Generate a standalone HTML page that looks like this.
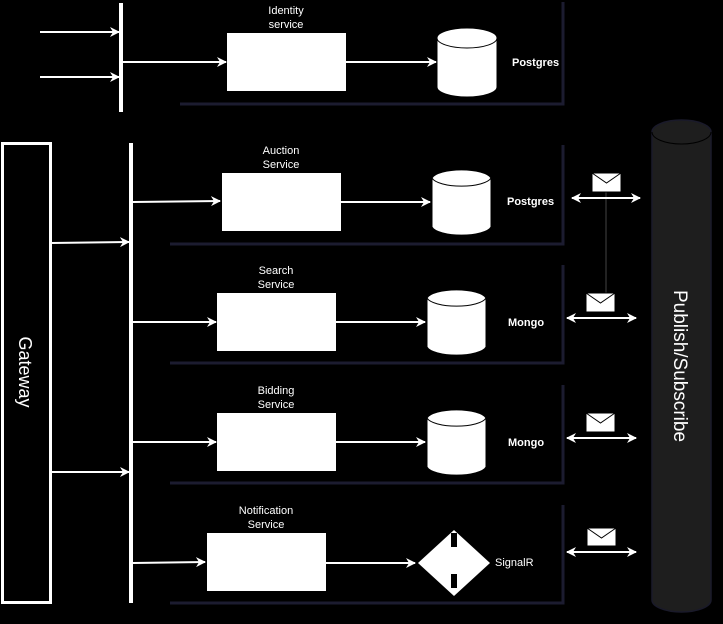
<!DOCTYPE html>
<html><head><style>
html,body{margin:0;padding:0;background:#000;}
svg{display:block}
text{font-family:"Liberation Sans",Arial,sans-serif;fill:#fff;}
</style></head><body>
<svg width="723" height="624" viewBox="0 0 723 624" xmlns="http://www.w3.org/2000/svg">
<defs>
<marker id="a" markerWidth="10" markerHeight="10" refX="9" refY="5" orient="auto" markerUnits="userSpaceOnUse">
<path d="M0,0 L10,5 L0,10 L3,5 Z" fill="#fff"/></marker>
<marker id="b" markerWidth="10" markerHeight="10" refX="1" refY="5" orient="auto" markerUnits="userSpaceOnUse">
<path d="M10,0 L0,5 L10,10 L7,5 Z" fill="#fff"/></marker>
</defs>
<rect width="723" height="624" fill="#000"/>
<!-- containers -->
<g stroke="#1c1c30" stroke-width="3" fill="none">
<path d="M180,104 H563 V2"/>
<path d="M170,244 H563 V145"/>
<path d="M170,363 H563 V265"/>
<path d="M170,483 H563 V385"/>
<path d="M170,603 H563 V505"/>
</g>
<line x1="606" y1="192" x2="606" y2="293" stroke="#222" stroke-width="2"/>
<g stroke="#fff" stroke-width="2" fill="none" marker-end="url(#a)">
<line x1="40" y1="32" x2="119" y2="32"/>
<line x1="40" y1="77" x2="119" y2="77"/>
<line x1="123" y1="62" x2="226" y2="62"/>
<line x1="346" y1="62" x2="436" y2="62"/>
<line x1="51" y1="243" x2="129" y2="242"/>
<line x1="51" y1="472" x2="129" y2="472"/>
<line x1="133" y1="202" x2="220" y2="201"/>
<line x1="341" y1="202" x2="430" y2="202"/>
<line x1="133" y1="322" x2="216" y2="322"/>
<line x1="336" y1="322" x2="425" y2="322"/>
<line x1="133" y1="442" x2="216" y2="442"/>
<line x1="336" y1="442" x2="425" y2="442"/>
<line x1="133" y1="563" x2="205" y2="562"/>
<line x1="326" y1="563" x2="415" y2="563"/>
</g>
<g stroke="#fff" stroke-width="2" fill="none" marker-end="url(#a)" marker-start="url(#b)">
<line x1="572" y1="198" x2="640" y2="198"/>
<line x1="567" y1="318" x2="636" y2="318"/>
<line x1="567" y1="438" x2="636" y2="438"/>
<line x1="567" y1="552" x2="636" y2="552"/>
</g>
<!-- bars -->
<rect x="119" y="3" width="4" height="109" fill="#fff"/>
<rect x="129" y="143" width="4" height="460" fill="#fff"/>
<rect x="2.5" y="143.5" width="48" height="459" fill="#000" stroke="#fff" stroke-width="3"/>
<text x="25" y="372" font-size="18" text-anchor="middle" transform="rotate(90 25 372)" dy="6">Gateway</text>
<!-- boxes -->
<g fill="#fff">
<rect x="227" y="33" width="119" height="58"/>
<rect x="222" y="173" width="119" height="58"/>
<rect x="217" y="293" width="119" height="58"/>
<rect x="217" y="413" width="119" height="58"/>
<rect x="207" y="533" width="119" height="58"/>
</g>
<g font-size="11" text-anchor="middle">
<text x="286" y="14">Identity</text><text x="286" y="28">service</text>
<text x="281" y="154">Auction</text><text x="281" y="168">Service</text>
<text x="276" y="274">Search</text><text x="276" y="288">Service</text>
<text x="276" y="394">Bidding</text><text x="276" y="408">Service</text>
<text x="266" y="514">Notification</text><text x="266" y="528">Service</text>
</g>
<!-- cylinders -->
<g fill="#fff" stroke="#000" stroke-width="1">
<g transform="translate(437,28)"><path d="M0,10 A30,10 0 0 1 60,10 V59 A30,10 0 0 1 0,59 Z"/><path d="M0,10 A30,10 0 0 0 60,10" fill="none"/></g>
<g transform="translate(432,168)"><path d="M0,10 A30,10 0 0 1 59,10 V59 A30,10 0 0 1 0,59 Z"/><path d="M0,10 A30,10 0 0 0 59,10" fill="none"/></g>
<g transform="translate(427,288)"><path d="M0,10 A30,10 0 0 1 59,10 V59 A30,10 0 0 1 0,59 Z"/><path d="M0,10 A30,10 0 0 0 59,10" fill="none"/></g>
<g transform="translate(427,408)"><path d="M0,10 A30,10 0 0 1 59,10 V59 A30,10 0 0 1 0,59 Z"/><path d="M0,10 A30,10 0 0 0 59,10" fill="none"/></g>
</g>
<g font-size="11" font-weight="bold">
<text x="512" y="66">Postgres</text>
<text x="507" y="205">Postgres</text>
<text x="508" y="326">Mongo</text>
<text x="508" y="446">Mongo</text>
<text x="495" y="566" font-weight="normal">SignalR</text>
</g>
<!-- diamond -->
<path d="M418,563 L454,530 L490,563 L454,596 Z" fill="#fff"/>
<rect x="451" y="533" width="6" height="14" fill="#000"/>
<rect x="451" y="574" width="6" height="14" fill="#000"/>
<!-- envelopes -->
<g fill="#fff" stroke="#000" stroke-width="1">
<g transform="translate(592,173)"><rect width="29" height="19"/><path d="M0,0 L14.5,10 L29,0" fill="none"/></g>
<g transform="translate(586,293)"><rect width="29" height="19"/><path d="M0,0 L14.5,10 L29,0" fill="none"/></g>
<g transform="translate(586,413)"><rect width="29" height="19"/><path d="M0,0 L14.5,10 L29,0" fill="none"/></g>
<g transform="translate(587,528)"><rect width="29" height="18"/><path d="M0,0 L14.5,10 L29,0" fill="none"/></g>
</g>
<!-- pub/sub -->
<path d="M652,132 A29.5,12 0 0 1 711,132 V600 A29.5,12 0 0 1 652,600 Z" fill="#1e1e1e" stroke="#1a1a2a" stroke-width="1.5"/>
<path d="M652,132 A29.5,12 0 0 0 711,132" fill="none" stroke="#000" stroke-width="1"/>
<text x="680" y="366" font-size="19" text-anchor="middle" transform="rotate(90 680 366)" dy="6">Publish/Subscribe</text>
</svg>
</body></html>
